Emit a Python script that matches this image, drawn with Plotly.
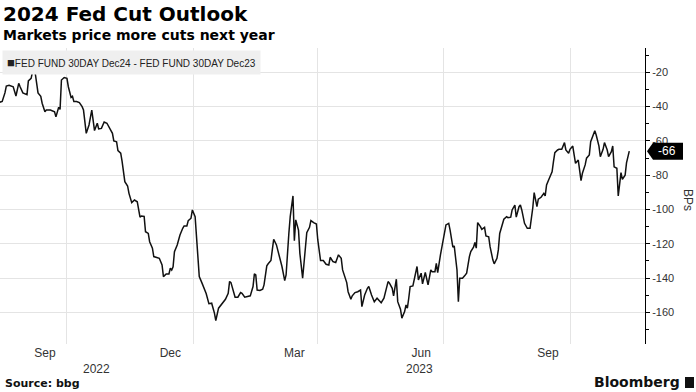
import plotly.graph_objects as go
import pandas as pd

# ---------------- data ----------------
dates = [
    "2022-08-13", "2022-08-15", "2022-08-17", "2022-08-18", "2022-08-20", "2022-08-23", "2022-08-25", "2022-08-27",
    "2022-08-28", "2022-08-30", "2022-09-02", "2022-09-03", "2022-09-05", "2022-09-06", "2022-09-08", "2022-09-10",
    "2022-09-12", "2022-09-13", "2022-09-15", "2022-09-16", "2022-09-19", "2022-09-22", "2022-09-23", "2022-09-25",
    "2022-09-26", "2022-09-27", "2022-09-29", "2022-10-01", "2022-10-02", "2022-10-04", "2022-10-05", "2022-10-06",
    "2022-10-08", "2022-10-10", "2022-10-12", "2022-10-13", "2022-10-15", "2022-10-17", "2022-10-19", "2022-10-20",
    "2022-10-21", "2022-10-23", "2022-10-24", "2022-10-26", "2022-10-28", "2022-10-30", "2022-11-01", "2022-11-03",
    "2022-11-04", "2022-11-06", "2022-11-07", "2022-11-09", "2022-11-10", "2022-11-12", "2022-11-14", "2022-11-15",
    "2022-11-17", "2022-11-19", "2022-11-21", "2022-11-23", "2022-11-24", "2022-11-26", "2022-11-27", "2022-11-29",
    "2022-11-30", "2022-12-02", "2022-12-03", "2022-12-05", "2022-12-07", "2022-12-09", "2022-12-10", "2022-12-12",
    "2022-12-14", "2022-12-15", "2022-12-16", "2022-12-17", "2022-12-18", "2022-12-20", "2022-12-22", "2022-12-24",
    "2022-12-25", "2022-12-27", "2022-12-28", "2022-12-30", "2022-12-31", "2023-01-02", "2023-01-03", "2023-01-05",
    "2023-01-07", "2023-01-09", "2023-01-10", "2023-01-12", "2023-01-14", "2023-01-16", "2023-01-17", "2023-01-19",
    "2023-01-21", "2023-01-22", "2023-01-24", "2023-01-26", "2023-01-27", "2023-01-28", "2023-01-30", "2023-01-31",
    "2023-02-02", "2023-02-04", "2023-02-05", "2023-02-07", "2023-02-09", "2023-02-11", "2023-02-13", "2023-02-14",
    "2023-02-15", "2023-02-16", "2023-02-18", "2023-02-20", "2023-02-21", "2023-02-23", "2023-02-24", "2023-02-26",
    "2023-02-27", "2023-02-28", "2023-03-02", "2023-03-03", "2023-03-05", "2023-03-06", "2023-03-08", "2023-03-09",
    "2023-03-11", "2023-03-12", "2023-03-14", "2023-03-15", "2023-03-16", "2023-03-18", "2023-03-19", "2023-03-21",
    "2023-03-22", "2023-03-24", "2023-03-26", "2023-03-27", "2023-03-29", "2023-03-31", "2023-04-01", "2023-04-03",
    "2023-04-05", "2023-04-07", "2023-04-09", "2023-04-10", "2023-04-12", "2023-04-14", "2023-04-16", "2023-04-18",
    "2023-04-19", "2023-04-21", "2023-04-22", "2023-04-23", "2023-04-25", "2023-04-26", "2023-04-28", "2023-04-30",
    "2023-05-02", "2023-05-03", "2023-05-05", "2023-05-07", "2023-05-08", "2023-05-10", "2023-05-12", "2023-05-14",
    "2023-05-16", "2023-05-17", "2023-05-19", "2023-05-21", "2023-05-22", "2023-05-23", "2023-05-25", "2023-05-26",
    "2023-05-27", "2023-05-28", "2023-05-29", "2023-05-31", "2023-06-01", "2023-06-03", "2023-06-04", "2023-06-05",
    "2023-06-06", "2023-06-07", "2023-06-09", "2023-06-10", "2023-06-12", "2023-06-13", "2023-06-15", "2023-06-16",
    "2023-06-18", "2023-06-20", "2023-06-22", "2023-06-23", "2023-06-25", "2023-06-26", "2023-06-27", "2023-06-29",
    "2023-07-01", "2023-07-03", "2023-07-05", "2023-07-06", "2023-07-08", "2023-07-09", "2023-07-11", "2023-07-12",
    "2023-07-13", "2023-07-15", "2023-07-17", "2023-07-18", "2023-07-20", "2023-07-21", "2023-07-23", "2023-07-24",
    "2023-07-25", "2023-07-26", "2023-07-28", "2023-07-29", "2023-07-31", "2023-08-01", "2023-08-03", "2023-08-04",
    "2023-08-06", "2023-08-07", "2023-08-09", "2023-08-10", "2023-08-11", "2023-08-13", "2023-08-14", "2023-08-16",
    "2023-08-17", "2023-08-19", "2023-08-20", "2023-08-22", "2023-08-23", "2023-08-25", "2023-08-26", "2023-08-27",
    "2023-08-29", "2023-08-31", "2023-09-02", "2023-09-04", "2023-09-05", "2023-09-07", "2023-09-08", "2023-09-10",
    "2023-09-12", "2023-09-13", "2023-09-14", "2023-09-16", "2023-09-18", "2023-09-19", "2023-09-20", "2023-09-22",
    "2023-09-23", "2023-09-25", "2023-09-27", "2023-09-28", "2023-09-30", "2023-10-01", "2023-10-03", "2023-10-04",
    "2023-10-05", "2023-10-07", "2023-10-09", "2023-10-10", "2023-10-12", "2023-10-13", "2023-10-15", "2023-10-16",
    "2023-10-18", "2023-10-19", "2023-10-20", "2023-10-22", "2023-10-23", "2023-10-25", "2023-10-26", "2023-10-28",
    "2023-10-29", "2023-10-31", "2023-11-01", "2023-11-02", "2023-11-04", "2023-11-05", "2023-11-07", "2023-11-08",
    "2023-11-10", "2023-11-11", "2023-11-13",
]

spread_bps = [
    -37.5, -37, -32, -28, -27.6, -28.4, -33.8, -26.4,
    -28.4, -32, -33, -25, -23.5, -19.7, -20.6, -32,
    -34, -38, -43, -42, -42, -43, -46, -40.4,
    -41.6, -24.5, -23, -23.5, -28.4, -34.6, -34, -37,
    -37, -37.7, -40, -42, -55.6, -50.7, -42, -46.8,
    -54, -49.7, -53, -52.7, -49, -49.7, -53, -55.6,
    -60, -60.5, -65.7, -67.2, -72, -83.8, -86.3, -90.6,
    -96, -94.5, -95.5, -104.5, -103.8, -104, -113, -114,
    -118.8, -122.6, -127.5, -127.9, -128.5, -132.4, -139.2, -137.6,
    -137.6, -134.3, -135.3, -133.4, -124.6, -120.7, -114.9, -111,
    -109.6, -109.6, -106.5, -105.1, -100.3, -104.2, -116.8, -139.2,
    -143, -147, -149, -155, -154.7, -160.5, -164.8, -157.6,
    -155.3, -154.7, -152.4, -148.9, -142, -142.7, -148.9, -151.2,
    -151.2, -148.5, -148.9, -151.2, -150.8, -150.4, -145, -137.6,
    -138.2, -147, -147.3, -146.5, -144, -132.9, -131.7, -129.8,
    -123.6, -117.4, -120.7, -123.6, -129.4, -133.3, -141.5, -138.2,
    -114, -104.2, -92.1, -118.2, -106.1, -112, -125.6, -140.1,
    -131.4, -113.5, -110.4, -106.5, -107.7, -108.5, -117.8, -129.8,
    -129.8, -132, -132.4, -127.9, -130.4, -131, -126.5, -128.5,
    -135.3, -140.1, -142.7, -148, -152.4, -150.4, -148.5, -148,
    -147, -156.7, -149.9, -146, -145, -149.9, -153.8, -151.8,
    -153.2, -154.4, -151.8, -146, -142.1, -143, -146, -150.4,
    -145, -140.7, -153.8, -158.2, -163.4, -159.6, -155.7, -157.6,
    -151.8, -145, -144.6, -140, -133.3, -141.1, -137.2, -143.4,
    -136.8, -144, -135.3, -136.3, -136.3, -131.4, -136.8, -126.5,
    -116.8, -109, -108.1, -112, -122, -121.3, -135.3, -153.8,
    -140.1, -140.1, -138.2, -137.2, -127.5, -124.6, -122, -119.3,
    -122.6, -107.7, -110, -111.6, -110.4, -115.4, -115.9, -121.7,
    -129.4, -131.7, -128.5, -123.6, -114, -107.7, -105.7, -104.2,
    -104.8, -104.5, -100.3, -97.4, -104.5, -98.4, -97.4, -100.3,
    -108.1, -111, -111, -99, -90.2, -98.4, -94, -92.9,
    -90.6, -92.1, -85.7, -81.8, -78, -72.1, -66.9, -65.3,
    -64.9, -64.9, -61, -65.3, -67.2, -64.9, -63, -68.2,
    -73.1, -71.2, -83.2, -78.9, -74, -70.1, -68.2, -60.5,
    -56, -54.1, -56.6, -63, -69.2, -64.9, -61, -65.3,
    -69.2, -66.3, -63, -75.1, -76, -92.1, -78.5, -82.4,
    -80, -72.8, -66,
]

x_range = ["2022-08-13 10:00", "2023-11-24 10:00"]
y_range = [-178.5, -5.8]

month_tick_vals = ["2022-09-15", "2022-12-15", "2023-03-15", "2023-06-15", "2023-09-15"]
month_tick_text = ["Sep", "Dec", "Mar", "Jun", "Sep"]
quarter_grid_vals = ["2022-10-01", "2023-01-01", "2023-04-01", "2023-07-01", "2023-10-01"]
year_labels = ["2022", "2023"]
year_starts = ["2023-01-01"]

y_tick_vals = [-20, -40, -60, -80, -100, -120, -140, -160]
y_tick_text = ["-20", "-40", "-60", "-80", "-100", "-120", "-140", "-160"]

series_name = "FED FUND 30DAY Dec24 - FED FUND 30DAY Dec23"
title = "2024 Fed Cut Outlook"
subtitle = "Markets price more cuts next year"
source = "Source: bbg"
y_title = "BPs"

# ---------------- figure ----------------
W, H = 696, 392
ML, MR, MT, MB = 0, 51, 48, 48
PW = W - ML - MR
PH = H - MT - MB

narrow = "Liberation Sans Narrow, Liberation Sans, Arial, sans-serif"
bold = "DejaVu Sans, Arial, sans-serif"
grid = "#e4e4e4"

fig = go.Figure()
fig.add_trace(go.Scatter(
    x=pd.to_datetime(dates), y=spread_bps, mode="lines",
    line=dict(color="#111111", width=1.5), name=series_name,
    showlegend=False, hoverinfo="x+y",
))

# year label positions: centre of visible span of each year
t0, t1 = pd.Timestamp(x_range[0]), pd.Timestamp(x_range[1])
bounds = [t0] + [pd.Timestamp(s) for s in year_starts] + [t1]
year_pos = [bounds[i] + (bounds[i + 1] - bounds[i]) / 2 for i in range(len(year_labels))]

ann = []
ann.append(dict(text="<b>%s</b>" % title, xref="paper", yref="paper", x=0, y=1,
                xanchor="left", yanchor="middle", xshift=1, yshift=MT - 14,
                showarrow=False, font=dict(family=bold, size=20, color="#000")))
ann.append(dict(text="<b>%s</b>" % subtitle, xref="paper", yref="paper", x=0, y=1,
                xanchor="left", yanchor="middle", xshift=1, yshift=MT - 35,
                showarrow=False, font=dict(family=bold, size=14, color="#000")))
ann.append(dict(text="<span style='font-size:13px'>■</span>" + series_name, xref="paper", yref="paper", x=0, y=1,
                xanchor="left", yanchor="top", xshift=2, yshift=-2,
                showarrow=False, bgcolor="#efefef", borderpad=4,
                font=dict(family=narrow, size=10, color="#222")))
for lbl, pos in zip(year_labels, year_pos):
    ann.append(dict(text=lbl, xref="x", yref="paper", x=pos, y=0, xanchor="center", yanchor="middle",
                    yshift=-(369 - (MT + PH)), showarrow=False,
                    font=dict(family=narrow, size=12, color="#333")))
last_val = spread_bps[-1]
ann.append(dict(text="%d" % round(last_val), xref="paper", yref="y", x=1, y=last_val,
                xanchor="center", yanchor="middle", xshift=22, showarrow=False,
                font=dict(family=narrow, size=12, color="#fff")))
ann.append(dict(text=y_title, xref="paper", yref="paper", x=1, y=0.5, xanchor="center",
                yanchor="middle", xshift=43, yshift=-4,
                textangle=90, showarrow=False, font=dict(family=narrow, size=12, color="#333")))
ann.append(dict(text="<b>%s</b>" % source, xref="paper", yref="paper", x=0, y=0,
                xanchor="left", yanchor="middle", xshift=3, yshift=-(383 - (MT + PH)),
                showarrow=False, font=dict(family=bold, size=11, color="#111")))
ann.append(dict(text="<b>Bloomberg</b>", xref="paper", yref="paper", x=1, y=0,
                xanchor="right", yanchor="middle", xshift=682 - (ML + PW), yshift=-(382 - (MT + PH)),
                showarrow=False, font=dict(family=bold, size=14, color="#111")))

def px_x(p):
    return (p - ML) / PW

def px_y(p):
    return 1 - (p - MT) / PH

shapes = [
    # pointed value tag on the axis, anchored at the last value
    dict(type="path", xref="paper", yref="y", xsizemode="pixel", ysizemode="pixel",
         xanchor=1, yanchor=last_val,
         path="M 2 0 L 8 8.5 L 38 8.5 L 38 -8.5 L 8 -8.5 Z",
         fillcolor="#000", line=dict(width=0), layer="above"),
    # logo block
    dict(type="rect", xref="paper", yref="paper",
         x0=px_x(685), x1=px_x(694), y0=px_y(388), y1=px_y(377),
         fillcolor="#111", line=dict(width=0)),
]

fig.update_layout(
    width=W, height=H,
    margin=dict(l=ML, r=MR, t=MT, b=MB, pad=0, autoexpand=False),
    paper_bgcolor="white", plot_bgcolor="white",
    annotations=ann, shapes=shapes,
    xaxis=dict(
        type="date", range=x_range, automargin=False,
        tickmode="array", tickvals=month_tick_vals, ticktext=month_tick_text,
        showgrid=False, ticks="", showline=False, zeroline=False,
        tickfont=dict(family=narrow, size=12, color="#333"),
        minor=dict(tickmode="array", tickvals=quarter_grid_vals, showgrid=True,
                   gridcolor=grid, gridwidth=1, ticks=""),
    ),
    yaxis=dict(
        side="right", range=y_range, automargin=False,
        tickmode="array", tickvals=y_tick_vals, ticktext=y_tick_text,
        showgrid=True, gridcolor=grid, gridwidth=1,
        ticks="outside", ticklen=4, tickcolor="#000", tickwidth=1,
        showline=True, linecolor="#000", linewidth=1, zeroline=False,
        tickfont=dict(family=narrow, size=11, color="#333"),
        minor=dict(dtick=10, tick0=0, ticks="outside", ticklen=3, tickcolor="#000", showgrid=False),
    ),
)

fig.write_html("out.html", config={"displayModeBar": False},
               post_script="document.body.style.margin='0';document.body.style.overflow='hidden';")
